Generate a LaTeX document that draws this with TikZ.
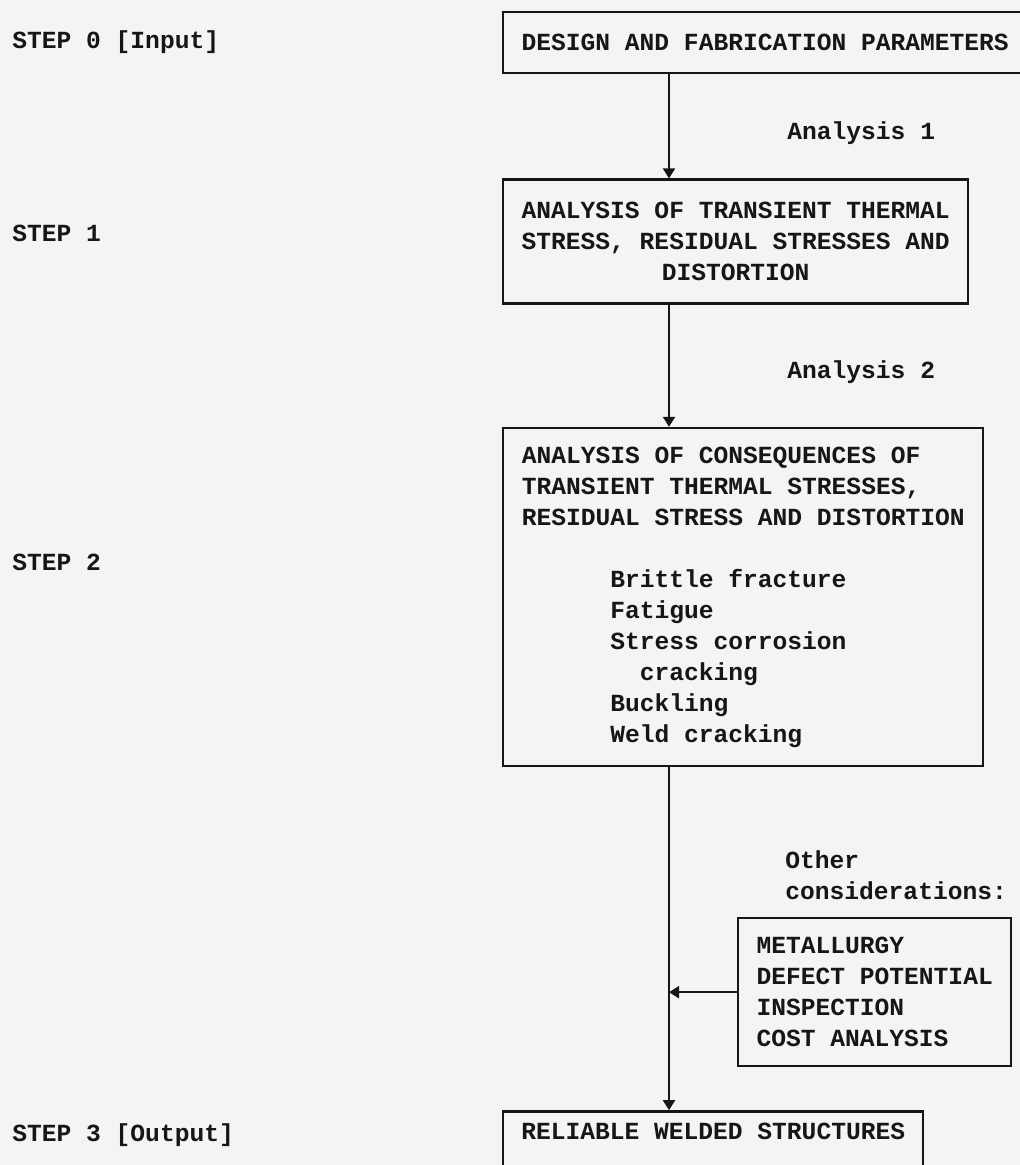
\documentclass[tikz,border=0pt]{standalone}
\usepackage{fontspec}
\setmonofont{Liberation Mono}
\usetikzlibrary{arrows.meta, positioning}
\definecolor{paper}{RGB}{244,244,244}
\definecolor{ink}{RGB}{22,22,22}
\newcommand{\typewriter}{\fontsize{12.3pt}{15.5pt}\selectfont\ttfamily\bfseries}
\newcommand{\listindent}{\hspace*{3.6em}}
\tikzset{
    stepbox/.style={rectangle, draw=ink, line width=1.2pt, inner sep=0pt, font=\typewriter, text=ink},
    steplabel/.style={anchor=west, inner sep=0pt, font=\typewriter, text=ink},
    flow/.style={draw=ink, line width=1pt, -{Triangle[length=5pt, width=6pt]}},
}

\begin{document}
\begin{tikzpicture}[x=0.5pt, y=-0.5pt]
% Paper tone and page size
\fill[paper] (0,0) rectangle (1020,1165);
\useasboundingbox (0,0) rectangle (1020,1165);

% Main column of steps
\node[stepbox, anchor=north west, minimum width=262pt, minimum height=30.5pt, align=center] (design) at (502,11) {DESIGN AND FABRICATION PARAMETERS};
\node[stepbox, below=52pt of design.south west, anchor=north west, minimum width=232.5pt, minimum height=62pt, align=center] (transient) {ANALYSIS OF TRANSIENT THERMAL\\STRESS, RESIDUAL STRESSES AND\\DISTORTION};
\node[stepbox, below=61pt of transient.south west, anchor=north west, minimum width=240pt, minimum height=169pt, align=left] (consequence) {ANALYSIS OF CONSEQUENCES OF\\TRANSIENT THERMAL STRESSES,\\RESIDUAL STRESS AND DISTORTION\\[15.5pt]\listindent Brittle fracture\\\listindent Fatigue\\\listindent Stress corrosion\\\hspace*{4.8em}cracking\\\listindent Buckling\\\listindent Weld cracking};
\node[stepbox, below=171.5pt of consequence.south west, anchor=north west, minimum width=210pt, align=center, text height=9pt, text depth=25pt, inner ysep=5pt] (reliable) {RELIABLE WELDED STRUCTURES};

% Side input
\node[stepbox, anchor=north west, minimum width=136.5pt, minimum height=74pt, align=left] (other) at (737,917) {METALLURGY\\DEFECT POTENTIAL\\INSPECTION\\COST ANALYSIS};
\node[steplabel, align=left] (otherlabel) at (785,875) {Other\\considerations:};

% Step labels on the left
\node[steplabel] (step0) at (12,42) {STEP 0 [Input]};
\node[steplabel] (step1) at (12,233) {STEP 1};
\node[steplabel] (step2) at (12,562) {STEP 2};
\node[steplabel] (step3) at (12,1135) {STEP 3 [Output]};

% Analysis labels
\node[steplabel] (analysis1) at (787,133) {Analysis 1};
\node[steplabel] (analysis2) at (787,372) {Analysis 2};

% Connectors
\coordinate (spine) at ([xshift=83.5pt]design.south west);
\draw[flow] (spine) -- (spine |- transient.north);
\draw[flow] (spine |- transient.south) -- (spine |- consequence.north);
\draw[flow] (spine |- consequence.south) -- (spine |- reliable.north);
\draw[flow] (other.west) -- (spine |- other.west);
\end{tikzpicture}
\end{document}
